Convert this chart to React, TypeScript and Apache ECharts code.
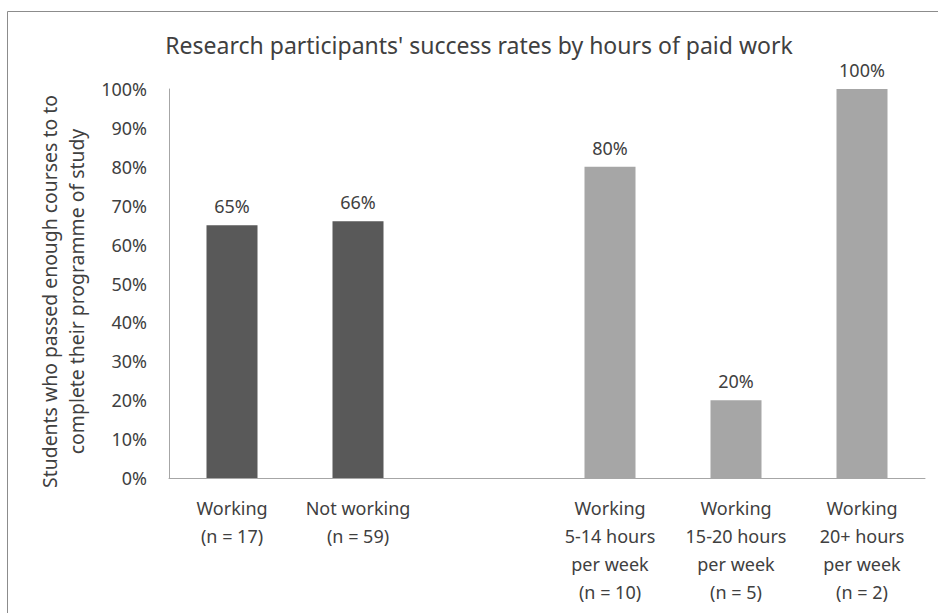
import React, { useEffect, useRef } from "react";
import * as echarts from "echarts";

const categories = [
  "Working\n(n = 17)",
  "Not working\n(n = 59)",
  "",
  "Working\n5-14 hours\nper week\n(n = 10)",
  "Working\n15-20 hours\nper week\n(n = 5)",
  "Working\n20+ hours\nper week\n(n = 2)",
];
const overallValues = [65, 66, null, null, null, null];
const hoursValues = [null, null, null, 80, 20, 100];
const yTicks = { min: 0, max: 100, interval: 10 };
const titleText = "Research participants' success rates by hours of paid work";
const yAxisName = "Students who passed enough courses to to\ncomplete their programme of study";

const FONT = "Noto Sans";
const TEXT = "#404040";

export default function App() {
  const ref = useRef<HTMLDivElement>(null);
  useEffect(() => {
    if (!ref.current) return;
    const chart = echarts.init(ref.current, null, { renderer: "svg" });
    const label = {
      show: true,
      position: "top",
      distance: 10,
      formatter: "{c}%",
      fontFamily: FONT,
      fontSize: 18,
      color: TEXT,
    };
    chart.setOption({
      animation: false,
      backgroundColor: "#ffffff",
      textStyle: { fontFamily: FONT },
      title: {
        text: titleText,
        left: 474,
        top: 28,
        textAlign: "center",
        textStyle: { fontFamily: FONT, fontSize: 23, fontWeight: "normal", color: TEXT },
      },
      graphic: [
        {
          type: "rect",
          shape: { x: 7.5, y: 11.5, width: 1200, height: 1200 },
          style: { fill: "none", stroke: "#8c8c8c", lineWidth: 1 },
          silent: true,
        },
      ],
      grid: { left: 169, right: 13, top: 89, bottom: 135 },
      xAxis: {
        type: "category",
        data: categories,
        axisLine: { show: true, lineStyle: { color: "#a6a6a6", width: 1 } },
        axisTick: { show: false },
        axisLabel: {
          interval: 0,
          margin: 16,
          fontFamily: FONT,
          fontSize: 18,
          lineHeight: 28,
          color: TEXT,
        },
      },
      yAxis: {
        type: "value",
        min: yTicks.min,
        max: yTicks.max,
        interval: yTicks.interval,
        name: yAxisName,
        nameLocation: "middle",
        nameGap: 78,
        nameRotate: 90,
        nameTextStyle: {
          fontFamily: FONT,
          fontSize: 19.4,
          lineHeight: 27,
          color: TEXT,
          padding: [0, 16, 0, 0],
        },
        axisLine: { show: true, lineStyle: { color: "#a6a6a6", width: 1 } },
        axisTick: { show: false },
        splitLine: { show: false },
        axisLabel: {
          formatter: "{value}%",
          margin: 22,
          fontFamily: FONT,
          fontSize: 18,
          color: TEXT,
        },
      },
      series: [
        {
          type: "bar",
          stack: "all",
          data: overallValues,
          barWidth: 51,
          itemStyle: { color: "#595959" },
          label,
        },
        {
          type: "bar",
          stack: "all",
          data: hoursValues,
          barWidth: 51,
          itemStyle: { color: "#a6a6a6" },
          label,
        },
      ],
    });
    return () => chart.dispose();
  }, []);
  return (
    <div
      ref={ref}
      style={{ position: "fixed", left: 0, top: 0, width: 938, height: 613, background: "#fff" }}
    />
  );
}
